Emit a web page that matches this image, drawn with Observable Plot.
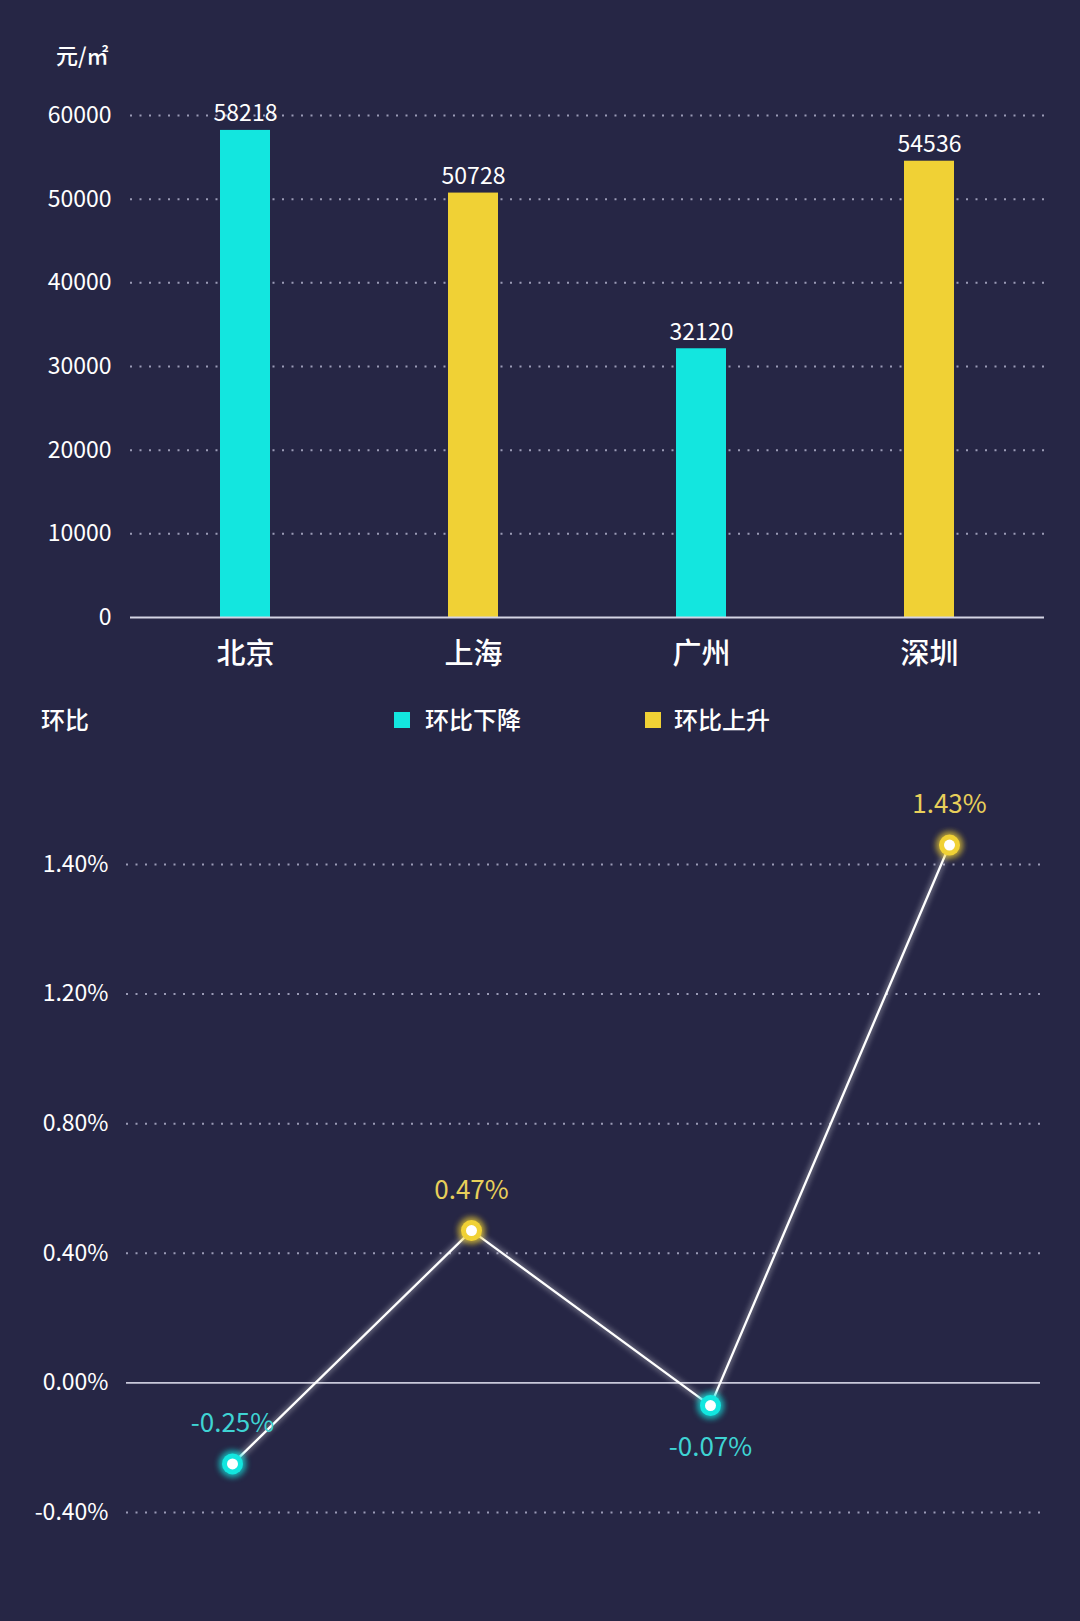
<!DOCTYPE html>
<html><head><meta charset="utf-8">
<script src="https://cdn.jsdelivr.net/npm/d3@7"></script>
<script src="https://cdn.jsdelivr.net/npm/@observablehq/plot@0.6"></script>
<style>
html,body{margin:0;padding:0;background:#262645;}
#root{position:relative;width:1080px;height:1621px;background:#262645;font-family:"Noto Sans CJK SC","Noto Sans",sans-serif;color:#fff;overflow:hidden;}
.abs{position:absolute;white-space:nowrap;line-height:1;}
.chart{position:absolute;left:0;}
.sw{position:absolute;width:16px;height:16px;}
</style></head><body><div id="root"></div>
<script>
// ---- data ----
const cities = ["北京", "上海", "广州", "深圳"];
const prices = [58218, 50728, 32120, 54536];
const changes = [-0.25, 0.47, -0.07, 1.43];
const priceTicks = [0, 10000, 20000, 30000, 40000, 50000, 60000];
const changeTicks = [-0.4, 0, 0.4, 0.8, 1.2, 1.4];
const legendLabels = ["环比下降", "环比上升"];
const unitLabel = "元/㎡";
const changeTitle = "环比";

const CYAN = "#13e6df", YELLOW = "#f0d135";
const CYAN_TXT = "#3fd3d3", YELLOW_TXT = "#e8cf5a";
const FONT = '"Noto Sans CJK SC","Noto Sans",sans-serif';
const GRID = "#a8a8c2";

const rows = cities.map((c, i) => ({
  city: c, price: prices[i], change: changes[i],
  trend: changes[i] < 0 ? legendLabels[0] : legendLabels[1]
}));

const root = document.getElementById("root");

// ---- top bar chart ----
const barChart = Plot.plot({
  width: 1080, height: 680,
  marginTop: 115, marginBottom: 63, marginLeft: 130, marginRight: 36,
  style: {background: "transparent", color: "#fff", fontFamily: FONT, overflow: "visible"},
  x: {domain: cities, paddingInner: 0.78, paddingOuter: 0.39, label: null},
  y: {domain: [0, 60000], label: null},
  color: {domain: legendLabels, range: [CYAN, YELLOW]},
  marks: [
    Plot.ruleY(priceTicks.filter(d => d !== 0), {stroke: GRID, strokeOpacity: 0.9, strokeWidth: 2, strokeDasharray: "2,7.5"}),
    Plot.barY(rows, {x: "city", y: "price", fill: "trend"}),
    Plot.ruleY([0], {stroke: "#d4d4e4", strokeWidth: 2}),
    Plot.text(rows, {x: "city", y: "price", text: d => String(d.price), lineAnchor: "bottom", dy: -9, fill: "#fff", fontSize: 23}),
    Plot.axisY({ticks: priceTicks, tickSize: 0, tickPadding: 19, fontSize: 23, tickFormat: d => String(d), label: null}),
    Plot.axisX({tickSize: 0, tickPadding: 26, fontSize: 29, fontWeight: 500, label: null})
  ]
});
barChart.classList.add("chart");
barChart.style.top = "0px";
root.appendChild(barChart);

// ---- bottom line chart (piecewise y scale: tick labels evenly spaced) ----
const lineChart = Plot.plot({
  width: 1080, height: 881,
  marginTop: 124, marginBottom: 109, marginLeft: 126, marginRight: 40,
  style: {background: "transparent", color: "#fff", fontFamily: FONT, overflow: "visible"},
  x: {type: "point", domain: cities, padding: 0, insetLeft: 105, insetRight: 90, axis: null},
  y: {type: "linear", domain: changeTicks, label: null},
  marks: [
    Plot.ruleY(changeTicks.filter(d => d !== 0), {stroke: GRID, strokeOpacity: 0.9, strokeWidth: 2, strokeDasharray: "2,7.5"}),
    Plot.ruleY([0], {stroke: "#c8c8da", strokeWidth: 1.6}),
    Plot.line(rows, {x: "city", y: "change", stroke: "#ffffff", strokeWidth: 2.3, imageFilter: "drop-shadow(0 0 3px rgba(255,255,255,0.85))"}),
    Plot.dot(rows, {filter: d => d.change < 0, x: "city", y: "change", r: 14, fill: CYAN, fillOpacity: 0.35, imageFilter: "blur(2.5px)"}),
    Plot.dot(rows, {filter: d => d.change >= 0, x: "city", y: "change", r: 14, fill: YELLOW, fillOpacity: 0.35, imageFilter: "blur(2.5px)"}),
    Plot.dot(rows, {filter: d => d.change < 0, x: "city", y: "change", r: 10.5, fill: CYAN, imageFilter: `drop-shadow(0 0 4px ${CYAN})`}),
    Plot.dot(rows, {filter: d => d.change >= 0, x: "city", y: "change", r: 10.5, fill: YELLOW, imageFilter: `drop-shadow(0 0 4px ${YELLOW})`}),
    Plot.dot(rows, {x: "city", y: "change", r: 5.5, fill: "#ffffff"}),
    Plot.text(rows, {filter: d => d.city !== "广州", x: "city", y: "change", text: d => d.change.toFixed(2) + "%", dy: -40, fontSize: 26, fill: d => d.change < 0 ? CYAN_TXT : YELLOW_TXT}),
    Plot.text(rows, {filter: d => d.city === "广州", x: "city", y: "change", text: d => d.change.toFixed(2) + "%", dy: 42, fontSize: 26, fill: d => d.change < 0 ? CYAN_TXT : YELLOW_TXT}),
    Plot.axisY({ticks: changeTicks, tickSize: 0, tickPadding: 18, fontSize: 23, tickFormat: d => d.toFixed(2) + "%", label: null})
  ]
});
lineChart.classList.add("chart");
lineChart.style.top = "740px";
root.appendChild(lineChart);

// ---- html texts ----
function addText(txt, left, centerY, size, color) {
  const el = document.createElement("div");
  el.className = "abs";
  el.textContent = txt;
  el.style.left = left + "px";
  el.style.top = (centerY - size / 2) + "px";
  el.style.fontSize = size + "px";
  el.style.fontWeight = "500";
  el.style.color = color || "#fff";
  root.appendChild(el);
  return el;
}
addText(unitLabel, 56, 54, 22);
addText(changeTitle, 41, 719, 24);

const swX = [394, 645], txX = [425, 674];
legendLabels.forEach((lab, i) => {
  const sw = document.createElement("div");
  sw.className = "sw";
  sw.style.left = swX[i] + "px";
  sw.style.top = "712px";
  sw.style.background = i === 0 ? CYAN : YELLOW;
  root.appendChild(sw);
  addText(lab, txX[i], 719, 24);
});
</script>
</body></html>
